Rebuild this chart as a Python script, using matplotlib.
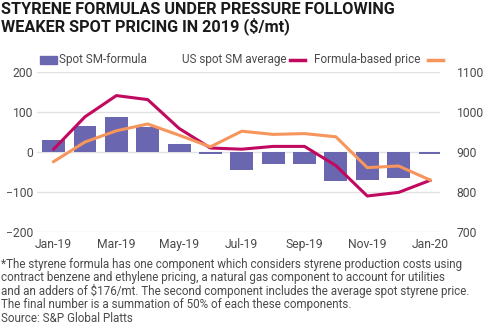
import matplotlib
matplotlib.use("Agg")
import matplotlib.pyplot as plt
from matplotlib.patches import Rectangle
from matplotlib.lines import Line2D

plt.rcParams['font.family'] = ['Roboto', 'DejaVu Sans']

months = ["Jan-19", "Feb-19", "Mar-19", "Apr-19", "May-19", "Jun-19", "Jul-19",
          "Aug-19", "Sep-19", "Oct-19", "Nov-19", "Dec-19", "Jan-20"]
spread = [30, 66, 87, 62, 20, -5, -44, -31, -31, -72, -70, -65, -4]
us_spot = [907, 988, 1041, 1031, 959, 910, 907, 914, 914, 866, 790, 799, 829]
formula = [876, 925, 953, 970, 942, 913, 952, 944, 946, 938, 861, 865, 830]
tick_labels = ["Jan-19", "Mar-19", "May-19", "Jul-19", "Sep-19", "Nov-19", "Jan-20"]

BAR = "#6a66b0"
CRIMSON = "#c0095f"
ORANGE = "#f7965c"
GRID = "#e2e2e2"
TXT = "#4a4a4a"

W, H = 484, 329
fig = plt.figure(figsize=(W / 100, H / 100), dpi=100)
ax = fig.add_axes([37 / W, 1 - 232 / H, (440 - 37) / W, (232 - 72) / H])
ax2 = ax.twinx()

x = list(range(len(months)))
ax.bar(x, spread, width=0.73, color=BAR, zorder=2)
ax.set_ylim(-200, 200)
ax.set_yticks([-200, -100, 0, 100, 200])
ax.set_xlim(-0.53, 12.32)
ax.set_xticks(x[::2])
ax.set_xticklabels(tick_labels)
ax.grid(axis='y', color=GRID, lw=1, zorder=0)
ax.set_axisbelow(True)

ax2.plot(x, us_spot, color=CRIMSON, lw=2.2, zorder=3)
ax2.plot(x, formula, color=ORANGE, lw=2.2, zorder=3)
ax2.set_ylim(700, 1100)
ax2.set_yticks([700, 800, 900, 1000, 1100])

for a in (ax, ax2):
    for s in a.spines.values():
        s.set_visible(False)
    a.tick_params(length=0, labelsize=8.7, labelcolor=TXT)
ax.tick_params(axis='x', pad=4)
ax.tick_params(axis='y', pad=3)
ax2.tick_params(axis='y', pad=12)
ax.set_zorder(ax2.get_zorder() - 1)
ax.patch.set_visible(True)
ax2.patch.set_visible(False)

# title
fig.text(1 / W, 1 - 2 / H, "STYRENE FORMULAS UNDER PRESSURE FOLLOWING\nWEAKER SPOT PRICING IN 2019 ($/mt)",
         ha='left', va='top', fontsize=11.7, fontweight='bold', color='#1a1a1a',
         linespacing=1.0)

# legend row
ly = 1 - 60 / H
fig.patches.append(Rectangle((40 / W, 1 - 64 / H), 17 / W, 8 / H, transform=fig.transFigure,
                             color=BAR))
fig.text(59 / W, ly, "Spot SM-formula", ha='left', va='center', fontsize=8.5, color=TXT)
fig.text(182 / W, ly, "US spot SM average", ha='left', va='center', fontsize=8.5, color=TXT)
fig.lines.append(Line2D([290 / W, 305 / W], [ly, ly], transform=fig.transFigure,
                        color=CRIMSON, lw=2.5))
fig.text(314 / W, ly, "Formula-based price", ha='left', va='center', fontsize=8.5, color=TXT)
fig.lines.append(Line2D([428 / W, 443 / W], [ly, ly], transform=fig.transFigure,
                        color=ORANGE, lw=2.5))

# footnote
note = ("*The styrene formula has one component which considers styrene production costs using\n"
        "contract benzene and ethylene pricing, a natural gas component to account for utilities\n"
        "and an adders of $176/mt. The second component includes the average spot styrene price.\n"
        "The final number is a summation of 50% of each these components.")
fig.text(1 / W, 1 - 258 / H, note, ha='left', va='top', fontsize=8.4, color=TXT,
         linespacing=1.0)
fig.text(1 / W, 1 - 312 / H, "Source: S&P Global Platts", ha='left', va='top',
         fontsize=8.4, color=TXT)

fig.savefig("out.png", dpi=100, facecolor='white')
